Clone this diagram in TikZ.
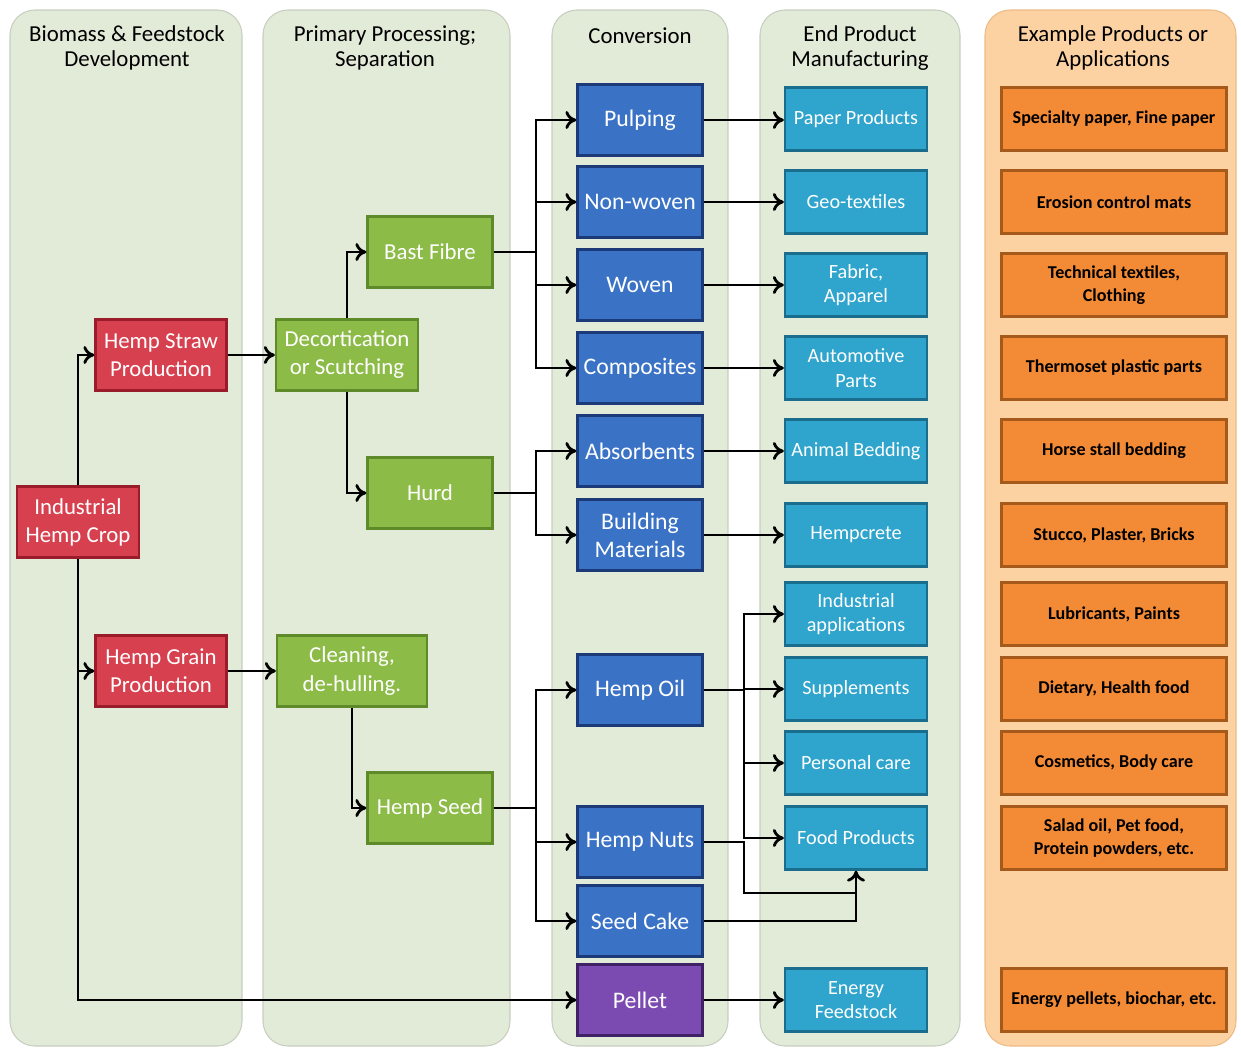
\documentclass[tikz,border=0pt]{standalone}
\usepackage{fontspec}
\setmainfont{Carlito}
\usetikzlibrary{positioning,arrows.meta}

\definecolor{panelbg}{HTML}{E2EAD8}
\definecolor{panelln}{HTML}{C8CEC0}
\definecolor{appbg}{HTML}{FCD2A2}
\definecolor{appln}{HTML}{EDBA85}
\definecolor{redfill}{HTML}{D7404E}
\definecolor{redline}{HTML}{9A1C2A}
\definecolor{grnfill}{HTML}{8CBB47}
\definecolor{grnline}{HTML}{5E8A2A}
\definecolor{bluefill}{HTML}{3A72C6}
\definecolor{blueline}{HTML}{1D3A78}
\definecolor{cyanfill}{HTML}{2FA4CC}
\definecolor{cyanline}{HTML}{1A6D8C}
\definecolor{purfill}{HTML}{7B4BB2}
\definecolor{purline}{HTML}{3F2266}
\definecolor{orgfill}{HTML}{F38A35}
\definecolor{orgline}{HTML}{A55A1C}

\tikzset{
  panel/.style={rounded corners=5mm,fill=panelbg,draw=panelln,line width=0.6pt},
  head/.style={align=center,text=black,font=\fontsize{13}{14.5}\selectfont},
  box/.style={draw,line width=1.3pt,text=white,align=center,inner sep=1pt,
    minimum height=14.2mm,font=\fontsize{13}{16}\selectfont},
  crop/.style={box,fill=redfill,draw=redline},
  prim/.style={box,fill=grnfill,draw=grnline},
  conv/.style={box,fill=bluefill,draw=blueline,minimum width=25mm,font=\fontsize{13.5}{16}\selectfont},
  endp/.style={box,fill=cyanfill,draw=cyanline,minimum width=28.4mm,minimum height=12.6mm,
    font=\fontsize{11.5}{14}\selectfont},
  appl/.style={box,fill=orgfill,draw=orgline,text=black,minimum width=45mm,minimum height=12.6mm,
    font=\bfseries\fontsize{10.3}{13}\selectfont},
  link/.style={line width=1.6pt},
  arr/.style={-{To[length=2.2mm,width=3.6mm]},line width=1.6pt}
}

\begin{document}
\begin{tikzpicture}[x=0.2mm,y=-0.2mm]
\useasboundingbox (0,0) rectangle (1241,1049);
\draw[panel] (10,10) rectangle (242,1046);
\draw[panel] (263,10) rectangle (510,1046);
\draw[panel] (552,10) rectangle (728,1046);
\draw[panel] (760,10) rectangle (960,1046);
\draw[panel,fill=appbg,draw=appln] (985,10) rectangle (1236,1046);

\node[head] (h1) at (127,48) {Biomass \& Feedstock\\Development};
\node[head] (h2) at (385,48) {Primary Processing;\\Separation};
\node[head] (h3) at (640,36) {Conversion};
\node[head] (h4) at (860,48) {End Product\\Manufacturing};
\node[head] (h5) at (1113,48) {Example Products or\\Applications};

\node[crop,minimum width=24.4mm] (hcrop) at (78,522) {Industrial\\Hemp Crop};
\node[crop,minimum width=26.2mm] (straw) at (161,355) {Hemp Straw\\Production};
\node[crop,minimum width=26.2mm] (grain) at (161,671) {Hemp Grain\\Production};

\node[prim,minimum width=28.4mm] (decort) at (347,355) {Decortication\\or Scutching};
\node[prim,minimum width=25mm] (bast) at (430,252) {Bast Fibre};
\node[prim,minimum width=25mm] (hurd) at (430,493) {Hurd};
\node[prim,minimum width=30mm] (clean) at (352,671) {Cleaning,\\de-hulling.};
\node[prim,minimum width=25mm] (seed) at (430,808) {Hemp Seed};

\node[conv] (pulp) at (640,120) {Pulping};
\node[conv] (nonwoven) at (640,202) {Non-woven};
\node[conv] (woven) at (640,285) {Woven};
\node[conv] (comp) at (640,368) {Composites};
\node[conv] (absorb) at (640,451) {Absorbents};
\node[conv] (build) at (640,535) {Building\\Materials};
\node[conv] (oil) at (640,690) {Hemp Oil};
\node[conv] (nuts) at (640,842) {Hemp Nuts};
\node[conv] (cake) at (640,921) {Seed Cake};
\node[conv,fill=purfill,draw=purline] (pellet) at (640,1000) {Pellet};

\node[endp] (paper) at (856,119) {Paper Products};
\node[endp] (geo) at (856,202) {Geo-textiles};
\node[endp] (fabric) at (856,285) {Fabric,\\Apparel};
\node[endp] (auto) at (856,368) {Automotive\\Parts};
\node[endp] (bedding) at (856,451) {Animal Bedding};
\node[endp] (hcrete) at (856,535) {Hempcrete};
\node[endp] (indapp) at (856,614) {Industrial\\applications};
\node[endp] (supp) at (856,689) {Supplements};
\node[endp] (pcare) at (856,763) {Personal care};
\node[endp] (food) at (856,838) {Food Products};
\node[endp] (energy) at (856,1000) {Energy\\Feedstock};

\node[appl] (a1) at (1114,119) {Specialty paper, Fine paper};
\node[appl] (a2) at (1114,202) {Erosion control mats};
\node[appl] (a3) at (1114,285) {Technical textiles,\\Clothing};
\node[appl] (a4) at (1114,368) {Thermoset plastic parts};
\node[appl] (a5) at (1114,451) {Horse stall bedding};
\node[appl] (a6) at (1114,535) {Stucco, Plaster, Bricks};
\node[appl] (a7) at (1114,614) {Lubricants, Paints};
\node[appl] (a8) at (1114,689) {Dietary, Health food};
\node[appl] (a9) at (1114,763) {Cosmetics, Body care};
\node[appl] (a10) at (1114,838) {Salad oil, Pet food,\\Protein powders, etc.};
\node[appl] (a11) at (1114,1000) {Energy pellets, biochar, etc.};

\draw[arr] (hcrop.north) |- (straw.west);
\draw[arr] (hcrop.south) |- (grain.west);
\draw[arr] (hcrop.south) |- (pellet.west);
\draw[arr] (straw) -- (decort);
\draw[arr] (grain) -- (clean);
\draw[arr] (decort.north) |- (bast.west);
\draw[arr] (decort.south) |- (hurd.west);
\draw[arr] (clean.south) |- (seed.west);

\coordinate (bj) at (536,252);
\coordinate (hj) at (536,493);
\coordinate (sj) at (536,808);
\draw[link] (bast.east) -- (bj);
\draw[link] (hurd.east) -- (hj);
\draw[link] (seed.east) -- (sj);
\foreach \t in {pulp,nonwoven,woven,comp}
  \draw[arr] (bj) |- (\t.west);
\foreach \t in {absorb,build}
  \draw[arr] (hj) |- (\t.west);
\foreach \t in {oil,nuts,cake}
  \draw[arr] (sj) |- (\t.west);

\foreach \a/\b in {pulp/paper,nonwoven/geo,woven/fabric,comp/auto,absorb/bedding,build/hcrete,pellet/energy}
  \draw[arr] (\a.east) -- (\a.east -| \b.west);

\coordinate (oj) at (744,690);
\draw[link] (oil.east) -- (oj);
\foreach \t in {indapp,supp,pcare,food}
  \draw[arr] (oj) |- (\t.west);

\coordinate (fj) at (856,893);
\draw[link] (nuts.east) -| (744,893) -- (fj);
\draw[link] (cake.east) -| (fj);
\draw[arr] (fj) -- (food.south);
\end{tikzpicture}
\end{document}
